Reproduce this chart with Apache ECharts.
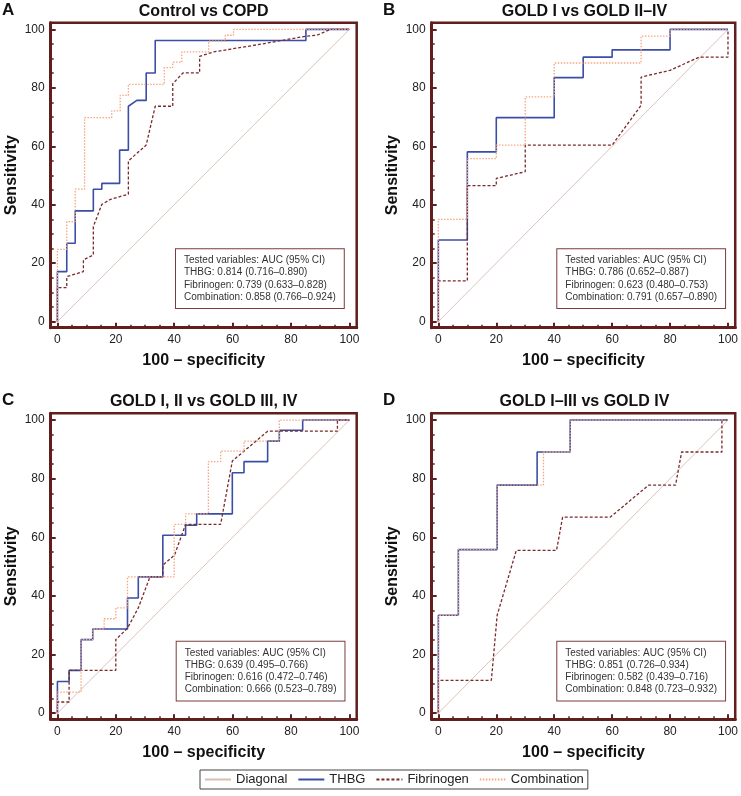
<!DOCTYPE html>
<html>
<head>
<meta charset="utf-8">
<script src="https://cdn.jsdelivr.net/npm/echarts@6/dist/echarts.min.js"></script>
<style>html,body{margin:0;padding:0;background:#fff}#c{width:741px;height:796px}</style>
</head>
<body>
<div id="c"></div>
<script>
// ---------- data ----------
const panelLetters = ['A', 'B', 'C', 'D'];
const panelTitles = ['Control vs COPD', 'GOLD I vs GOLD II–IV', 'GOLD I, II vs GOLD III, IV', 'GOLD I–III vs GOLD IV'];
const seriesNames = ['Diagonal', 'THBG', 'Fibrinogen', 'Combination'];
const tickLabels = [0, 20, 40, 60, 80, 100];
const minorTicks = [5, 10, 15, 25, 30, 35, 45, 50, 55, 65, 70, 75, 85, 90, 95];
const xAxisTitle = '100 – specificity';
const yAxisTitle = 'Sensitivity';

const diagonal = [[0, 0], [100, 100]];

const thbgA = [[0,0],[0,17.1],[3.2,17.1],[3.2,26.8],[6.1,26.8],[6.1,37.9],[12.3,37.9],[12.3,45.3],[15.2,45.3],[15.2,47.3],[21.3,47.3],[21.3,58.7],[24.3,58.7],[24.3,73.7],[27.2,75.7],[30.4,75.7],[30.4,85.1],[33.5,85.1],[33.5,96.2],[85.1,96.2],[85.1,100],[100,100]];
const fibA = [[0,0],[0,11.6],[3.2,11.6],[3.2,15.4],[8.9,17.1],[8.9,21.1],[12.3,22.8],[12.3,32.5],[15.2,40.1],[18.1,41.8],[24.3,43.6],[24.3,55.0],[30.4,60.4],[33.5,73.7],[39.5,73.7],[39.5,81.4],[43.0,85.1],[48.7,85.1],[48.7,90.8],[53.5,92.3],[70,95.0],[85.1,97.7],[88.9,98.0],[93.5,100],[100,100]];
const combA = [[0,0],[0,24.7],[3.2,24.7],[3.2,34.2],[6.1,34.2],[6.1,45.3],[9.3,45.3],[9.3,69.8],[18.6,69.8],[18.6,72.1],[21.5,72.1],[21.5,77.4],[24.3,77.4],[24.3,81.2],[36.6,81.2],[36.6,86.9],[39.5,86.9],[39.5,88.8],[42.6,88.8],[42.6,92.3],[51.8,92.3],[51.8,96.0],[57.5,96.0],[57.5,98.0],[60.3,98.0],[60.3,100],[100,100]];

const thbgB = [[0,0],[0,27.9],[10,27.9],[10,58.1],[20,58.1],[20,69.8],[40,69.8],[40,83.5],[50,83.5],[50,90.5],[60,90.5],[60,93.0],[80,93.0],[80,100],[100,100]];
const fibB = [[0,0],[0,13.9],[10,13.9],[10,46.5],[20,46.5],[20,49.0],[30,51.3],[30,60.4],[60,60.4],[70,74.0],[70,83.7],[80,86.0],[90,90.5],[100,90.5],[100,100]];
const combB = [[0,0],[0,35.0],[10,35.0],[10,55.8],[20,55.8],[20,60.4],[30,60.4],[30,76.9],[40,76.9],[40,88.5],[70,88.5],[70,97.7],[80,97.7],[80,100],[100,100]];

const thbgC = [[0,0],[0,10.8],[4,10.8],[4,14.6],[8.1,14.6],[8.1,25.1],[12.1,25.1],[12.1,28.7],[24,28.7],[24,39.3],[27.7,39.3],[27.7,46.5],[36.1,46.5],[36.1,60.7],[43.9,60.7],[43.9,64.1],[47.7,64.1],[47.7,68.0],[59.9,68.0],[59.9,82.0],[63.9,82.0],[63.9,85.8],[72,85.8],[72,92.8],[76,92.8],[76,96.5],[84,96.5],[84,100],[100,100]];
const fibC = [[0,0],[0,3.8],[4,3.8],[4,14.6],[20,14.6],[20,25.1],[24,29.0],[27.7,35.9],[31.7,46.5],[36.1,46.5],[36.1,50.5],[40.1,53.9],[43.9,64.4],[55.9,64.4],[59.9,86.0],[72,96.2],[95.9,96.2],[95.9,100],[100,100]];
const combC = [[0,0],[0,7.2],[8.1,7.2],[8.1,25.1],[12.1,25.1],[12.1,28.7],[16,28.7],[16,32.2],[20,32.2],[20,35.9],[24,35.9],[24,46.5],[40,46.5],[40,64.4],[43.9,64.4],[43.9,68.0],[51.7,68.0],[51.7,85.8],[55.9,85.8],[55.9,89.4],[63.9,89.4],[63.9,92.8],[76,92.8],[76,100],[100,100]];

const thbgD = [[0,0],[0,33.4],[6.9,33.4],[6.9,55.8],[20.3,55.8],[20.3,77.8],[34.1,77.8],[34.1,89.1],[45.5,89.1],[45.5,100],[100,100]];
const fibD = [[0,0],[0,11.2],[18.3,11.2],[20.3,33.4],[26.9,55.5],[40.8,55.5],[42.9,66.9],[59.4,66.9],[72.6,77.8],[81.9,77.8],[84,89.1],[97.9,89.1],[97.9,100],[100,100]];
const combD = [[0,0],[0,33.4],[6.9,33.4],[6.9,55.8],[20.3,55.8],[20.3,77.8],[36.3,77.8],[36.3,89.1],[45.5,89.1],[45.5,100],[100,100]];

const aucA = ['Tested variables: AUC (95% CI)', 'THBG: 0.814 (0.716–0.890)', 'Fibrinogen: 0.739 (0.633–0.828)', 'Combination: 0.858 (0.766–0.924)'];
const aucB = ['Tested variables: AUC (95% CI)', 'THBG: 0.786 (0.652–0.887)', 'Fibrinogen: 0.623 (0.480–0.753)', 'Combination: 0.791 (0.657–0.890)'];
const aucC = ['Tested variables: AUC (95% CI)', 'THBG: 0.639 (0.495–0.766)', 'Fibrinogen: 0.616 (0.472–0.746)', 'Combination: 0.666 (0.523–0.789)'];
const aucD = ['Tested variables: AUC (95% CI)', 'THBG: 0.851 (0.726–0.934)', 'Fibrinogen: 0.582 (0.439–0.716)', 'Combination: 0.848 (0.723–0.932)'];

const thbgData = [thbgA, thbgB, thbgC, thbgD];
const fibData = [fibA, fibB, fibC, fibD];
const combData = [combA, combB, combC, combD];
const aucTexts = [aucA, aucB, aucC, aucD];

// ---------- layout / style ----------
const FONT = '"Liberation Sans", Arial, Helvetica, sans-serif';
const FRAME = '#621d1d';
const COLORS = { diag: '#d9bcb2', thbg: '#3b4ea6', fib: '#7b2a2a', comb: '#f5a57f' };
const gridBoxes = [
  { left: 50.7, top: 22.7, width: 306, height: 305 },
  { left: 431.7, top: 22.7, width: 305.6, height: 305 },
  { left: 50.7, top: 413.3, width: 306, height: 306 },
  { left: 431.7, top: 413.3, width: 305.6, height: 306 }
];
const aucBoxPos = [[176, 249.3], [557.3, 249.3], [176.7, 641.7], [557.3, 641.7]];
const X_MIN = -2.3, X_MAX = 102.5, Y_MIN = -2.1, Y_MAX = 102.3;

const grid = [], xAxis = [], yAxis = [], series = [], graphic = [];

gridBoxes.forEach((g, i) => {
  grid.push({ left: g.left, top: g.top, width: g.width, height: g.height, show: true,
    borderColor: FRAME, borderWidth: 2.5, backgroundColor: '#fff' });

  xAxis.push({
    type: 'value', gridIndex: i, min: X_MIN, max: X_MAX, position: 'bottom',
    axisLine: { show: true, onZero: false, lineStyle: { color: FRAME, width: 3 } },
    axisTick: { show: true, inside: true, length: 5, customValues: tickLabels, lineStyle: { color: FRAME, width: 2 } },
    axisLabel: { customValues: tickLabels, fontSize: 12, color: '#222', margin: 6, fontFamily: FONT },
    splitLine: { show: false },
    name: xAxisTitle, nameLocation: 'middle', nameGap: 25,
    nameTextStyle: { fontSize: 16, fontWeight: 'bold', color: '#111', fontFamily: FONT }
  });
  xAxis.push({
    type: 'value', gridIndex: i, min: X_MIN, max: X_MAX, position: 'bottom',
    axisLine: { show: false, onZero: false },
    axisTick: { show: true, inside: true, length: 3, customValues: minorTicks, lineStyle: { color: FRAME, width: 1.5 } },
    axisLabel: { show: false }, splitLine: { show: false }
  });
  yAxis.push({
    type: 'value', gridIndex: i, min: Y_MIN, max: Y_MAX, position: 'left',
    axisLine: { show: true, onZero: false, lineStyle: { color: FRAME, width: 3 } },
    axisTick: { show: true, inside: true, length: 5, customValues: tickLabels, lineStyle: { color: FRAME, width: 2 } },
    axisLabel: { customValues: tickLabels, fontSize: 12, color: '#222', margin: 6, fontFamily: FONT },
    splitLine: { show: false },
    name: yAxisTitle, nameLocation: 'middle', nameGap: 31,
    nameTextStyle: { fontSize: 16, fontWeight: 'bold', color: '#111', fontFamily: FONT }
  });
  yAxis.push({
    type: 'value', gridIndex: i, min: Y_MIN, max: Y_MAX, position: 'left',
    axisLine: { show: false, onZero: false },
    axisTick: { show: true, inside: true, length: 3, customValues: minorTicks, lineStyle: { color: FRAME, width: 1.5 } },
    axisLabel: { show: false }, splitLine: { show: false }
  });

  const base = { type: 'line', xAxisIndex: 2 * i, yAxisIndex: 2 * i, symbol: 'none', silent: true, animation: false };
  series.push(Object.assign({}, base, { name: seriesNames[0], data: diagonal,
    lineStyle: { color: COLORS.diag, width: 0.9 }, itemStyle: { color: COLORS.diag } }));
  series.push(Object.assign({}, base, { name: seriesNames[1], data: thbgData[i],
    lineStyle: { color: COLORS.thbg, width: 1.6 }, itemStyle: { color: COLORS.thbg } }));
  series.push(Object.assign({}, base, { name: seriesNames[2], data: fibData[i],
    lineStyle: { color: COLORS.fib, width: 1.3, type: [3, 2] }, itemStyle: { color: COLORS.fib } }));
  series.push(Object.assign({}, base, { name: seriesNames[3], data: combData[i],
    lineStyle: { color: COLORS.comb, width: 1.3, type: [1.5, 1.5] }, itemStyle: { color: COLORS.comb } }));

  graphic.push({ type: 'text', x: g.left + g.width / 2, y: g.top - 11.5,
    style: { text: panelTitles[i], font: 'bold 16px ' + FONT, fill: '#111', textAlign: 'center', textVerticalAlign: 'middle' } });
  graphic.push({ type: 'text', x: i % 2 === 0 ? 2 : 383, y: g.top - 12.5,
    style: { text: panelLetters[i], font: 'bold 17px ' + FONT, fill: '#111', textAlign: 'left', textVerticalAlign: 'middle' } });
  graphic.push({ type: 'text', x: aucBoxPos[i][0], y: aucBoxPos[i][1], z: 10,
    style: { text: aucTexts[i].join('\n'), font: '10px ' + FONT, fill: '#333', lineHeight: 12.2,
      padding: [5, 8, 5, 8], borderColor: '#7d3b3b', borderWidth: 1, backgroundColor: '#fff' } });
});

const chart = echarts.init(document.getElementById('c'), null, { renderer: 'canvas' });
chart.setOption({
  animation: false,
  textStyle: { fontFamily: FONT },
  grid, xAxis, yAxis, series, graphic,
  legend: {
    data: seriesNames, left: 200, top: 770, orient: 'horizontal',
    itemWidth: 26, itemHeight: 12, itemGap: 10, padding: [3, 4, 3, 4],
    borderColor: '#444', borderWidth: 1, selectedMode: false,
    itemStyle: { opacity: 0 },
    textStyle: { fontSize: 13, color: '#222', fontFamily: FONT }
  }
});
</script>
</body>
</html>
